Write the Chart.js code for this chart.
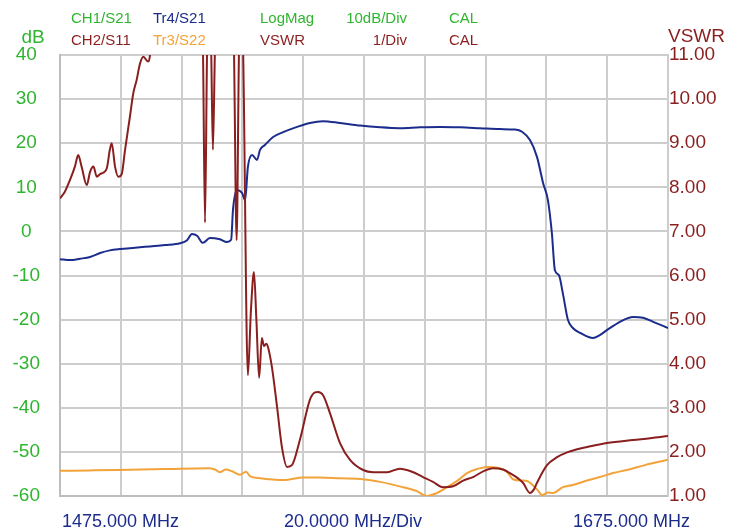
<!DOCTYPE html>
<html>
<head>
<meta charset="utf-8">
<title>S21 / S11 / S22 sweep</title>
<script src="https://cdn.jsdelivr.net/npm/chart.js@4.4.1/dist/chart.umd.min.js"></script>
<style>
    html, body { margin: 0; padding: 0; background: #fff; }
    #wrap { width: 735px; height: 529px; }
</style>
</head>
<body>
<div id="wrap"><canvas id="sweep" width="735" height="529"></canvas></div>
<script>
// frequency axis (MHz)
var freqStart = 1475;
var freqStop = 1675;
var freqStep = 20;

// Tr4/S21, LogMag in dB
var s21Freq = [1475.0, 1478.3, 1481.6, 1484.9, 1488.2, 1491.4, 1494.7, 1499.7, 1504.6, 1509.5,
    1514.5, 1516.8, 1518.4, 1520.1, 1522.0, 1524.3, 1527.6, 1529.9, 1531.3, 1531.9,
    1533.2, 1534.9, 1535.9, 1536.8, 1538.2, 1539.8, 1540.8, 1542.4, 1545.1, 1548.4,
    1553.0, 1557.2, 1561.5, 1567.1, 1573.7, 1580.3, 1586.8, 1593.4, 1600.0, 1606.6,
    1613.2, 1619.7, 1624.7, 1627.0, 1629.6, 1631.9, 1633.9, 1635.5, 1636.8, 1637.8,
    1639.1, 1640.4, 1642.1, 1643.7, 1646.1, 1650.3, 1652.6, 1654.9, 1659.2, 1663.5,
    1666.8, 1670.1, 1675.0];
var s21Db = [-6.3, -6.5, -6.2, -5.8, -4.9, -4.3, -4.0, -3.7, -3.4, -3.1,
    -2.7, -2.0, -0.6, -1.0, -2.6, -1.5, -1.8, -2.4, -1.9, 4.9,
    9.4, 8.7, 7.1, 14.6, 17.3, 16.2, 18.5, 19.6, 21.4, 22.5,
    23.7, 24.6, 25.0, 24.6, 24.0, 23.6, 23.4, 23.6, 23.7, 23.6,
    23.4, 23.2, 23.1, 22.6, 20.7, 16.9, 11.0, 7.1, -0.4, -8.8,
    -9.9, -14.0, -20.1, -21.9, -23.0, -24.2, -23.5, -22.4, -20.5, -19.4,
    -19.6, -20.5, -21.9];

// CH2/S11, VSWR (values above 11 run off the top of the graticule)
var s11Freq = [1475.0, 1476.6, 1478.3, 1479.9, 1481.0, 1482.1, 1483.8, 1484.9, 1486.0, 1487.1,
    1488.2, 1489.2, 1490.4, 1491.4, 1492.0, 1493.1, 1494.2, 1495.3, 1496.4, 1498.0,
    1499.1, 1500.2, 1501.3, 1502.4, 1504.0, 1504.6, 1505.3, 1521.1, 1522.0, 1522.7,
    1523.4, 1524.0, 1524.7, 1525.3, 1526.0, 1526.6, 1531.6, 1532.2, 1533.1, 1533.9,
    1534.5, 1535.2, 1536.8, 1537.8, 1538.8, 1539.6, 1540.5, 1541.4, 1542.1, 1542.8,
    1543.4, 1544.7, 1546.4, 1548.0, 1549.7, 1551.3, 1553.9, 1557.2, 1558.9, 1559.9,
    1561.5, 1563.8, 1567.1, 1570.4, 1574.7, 1578.0, 1582.6, 1586.8, 1590.8, 1594.4,
    1597.7, 1601.0, 1604.3, 1607.6, 1610.9, 1614.2, 1617.4, 1620.7, 1623.0, 1625.7,
    1627.3, 1629.6, 1630.9, 1631.9, 1635.2, 1638.5, 1641.8, 1645.1, 1648.4, 1654.9,
    1663.5, 1669.1, 1675.0];
var s11Vswr = [7.75, 7.9, 8.17, 8.47, 8.73, 8.47, 8.05, 8.35, 8.47, 8.24,
    8.3, 8.33, 8.43, 8.85, 9.0, 8.47, 8.24, 8.3, 8.85, 9.6,
    10.13, 10.43, 10.8, 10.96, 10.85, 11.0, 12, 12, 11.2, 7.2,
    11.2, 12, 11.2, 8.85, 11.2, 12, 12, 11.2, 6.8, 11.2,
    12, 11.2, 3.74, 5.2, 6.08, 5.0, 3.68, 4.58, 4.4, 4.45,
    4.38, 3.93, 3.02, 2.11, 1.66, 1.7, 2.27, 3.18, 3.35, 3.36,
    3.29, 2.88, 2.2, 1.82, 1.59, 1.54, 1.54, 1.62, 1.55, 1.43,
    1.32, 1.2, 1.22, 1.35, 1.43, 1.56, 1.63, 1.6, 1.52, 1.4,
    1.3, 1.07, 1.15, 1.3, 1.7, 1.88, 1.99, 2.06, 2.11, 2.2,
    2.27, 2.31, 2.36];

// Tr3/S22, VSWR
var s22Freq = [1475.0, 1484.9, 1494.1, 1509.5, 1523.7, 1526.0, 1527.6, 1529.6, 1531.6, 1534.2,
    1536.2, 1537.5, 1540.1, 1544.1, 1548.7, 1554.9, 1560.5, 1567.1, 1574.7, 1580.3,
    1587.8, 1592.1, 1595.7, 1598.4, 1602.3, 1606.0, 1608.9, 1612.6, 1615.5, 1619.7,
    1622.0, 1624.0, 1627.0, 1628.6, 1631.9, 1633.6, 1635.5, 1637.2, 1640.4, 1643.7,
    1648.4, 1652.6, 1656.9, 1661.5, 1667.4, 1675.0];
var s22Vswr = [1.57, 1.58, 1.59, 1.61, 1.63, 1.6, 1.54, 1.6, 1.56, 1.48,
    1.55, 1.45, 1.41, 1.38, 1.36, 1.42, 1.42, 1.4, 1.38, 1.32,
    1.2, 1.12, 1.0, 1.05, 1.2, 1.36, 1.52, 1.62, 1.66, 1.63,
    1.55, 1.38, 1.35, 1.34, 1.15, 1.02, 1.08, 1.07, 1.2, 1.25,
    1.35, 1.43, 1.52, 1.59, 1.7, 1.82];

var green = '#2fb52f';
var maroon = '#8a1f1f';
var navy = '#1c2c8c';
var orange = '#f2a33a';
var fontFamily = "'Liberation Sans', Arial, sans-serif";

function toPoints(xs, ys) {
    return xs.map(function (x, i) {
        return { x: x, y: ys[i] };
    });
}

// header, axis titles and footer text of the analyzer screen
var screenText = {
    id: 'screenText',
    afterDraw: function (chart) {
        var ctx = chart.ctx;
        var put = function (text, x, y, color, size, align) {
            ctx.font = size + 'px ' + fontFamily;
            ctx.fillStyle = color;
            ctx.textAlign = align || 'left';
            ctx.textBaseline = 'alphabetic';
            ctx.fillText(text, x, y);
        };
        ctx.save();
        put('CH1/S21', 71, 23, green, 15);
        put('Tr4/S21', 153, 23, navy, 15);
        put('LogMag', 260, 23, green, 15);
        put('10dB/Div', 407, 23, green, 15, 'right');
        put('CAL', 449, 23, green, 15);
        put('CH2/S11', 71, 45, maroon, 15);
        put('Tr3/S22', 153, 45, orange, 15);
        put('VSWR', 260, 45, maroon, 15);
        put('1/Div', 407, 45, maroon, 15, 'right');
        put('CAL', 449, 45, maroon, 15);

        put('dB', 33, 43, green, 19, 'center');
        put('VSWR', 668, 42, maroon, 19);

        put('1475.000 MHz', 62, 527, navy, 18);
        put('20.0000 MHz/Div', 284, 527, navy, 18);
        put('1675.000 MHz', 573, 527, navy, 18);
        ctx.restore();
    }
};

new Chart(document.getElementById('sweep').getContext('2d'), {
    type: 'line',
    data: {
        datasets: [
            {
                label: 'CH2/S11',
                data: toPoints(s11Freq, s11Vswr),
                yAxisID: 'vswr',
                borderColor: maroon,
                borderWidth: 2,
                order: 1
            },
            {
                label: 'Tr3/S22',
                data: toPoints(s22Freq, s22Vswr),
                yAxisID: 'vswr',
                borderColor: orange,
                borderWidth: 2,
                order: 2
            },
            {
                label: 'Tr4/S21',
                data: toPoints(s21Freq, s21Db),
                yAxisID: 'db',
                borderColor: navy,
                borderWidth: 2,
                order: 3
            }
        ]
    },
    options: {
        responsive: false,
        animation: false,
        layout: { padding: { top: 55, left: 0, right: 0, bottom: 0 } },
        elements: {
            point: { radius: 0 },
            line: { cubicInterpolationMode: 'monotone', fill: false }
        },
        plugins: {
            legend: { display: false },
            tooltip: { enabled: false }
        },
        scales: {
            x: {
                type: 'linear',
                min: freqStart,
                max: freqStop,
                ticks: { display: false, stepSize: freqStep },
                grid: { color: '#cdcdcd', lineWidth: 2, drawTicks: false },
                border: { color: '#bdbdbd', width: 2 },
                afterFit: function (scale) { scale.height = 33; }
            },
            db: {
                position: 'left',
                min: -60,
                max: 40,
                ticks: {
                    stepSize: 10,
                    color: green,
                    padding: 20,
                    crossAlign: 'center',
                    font: { family: fontFamily, size: 19 }
                },
                grid: { color: '#cdcdcd', lineWidth: 2, drawTicks: false },
                border: { color: '#bdbdbd', width: 2 },
                afterFit: function (scale) { scale.width = 60; }
            },
            vswr: {
                position: 'right',
                min: 1,
                max: 11,
                ticks: {
                    stepSize: 1,
                    color: maroon,
                    padding: 1,
                    crossAlign: 'near',
                    font: { family: fontFamily, size: 19 },
                    callback: function (v) { return v.toFixed(2); }
                },
                grid: { drawOnChartArea: false, drawTicks: false },
                border: { color: '#cdcdcd', width: 2 },
                afterFit: function (scale) { scale.width = 67; }
            }
        }
    },
    plugins: [screenText]
});
</script>
</body>
</html>
